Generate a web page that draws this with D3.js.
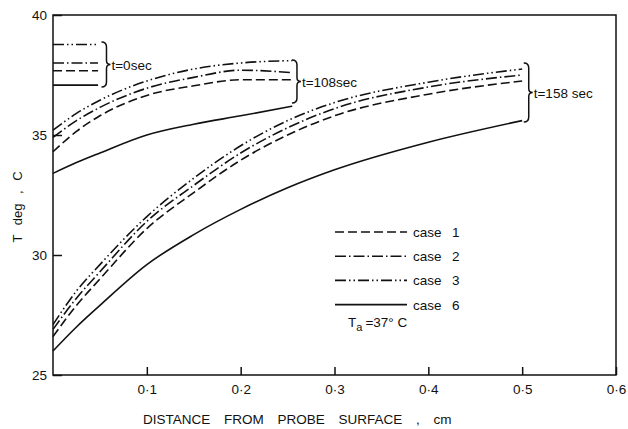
<!DOCTYPE html>
<html>
<head>
<meta charset="utf-8">
<script src="https://cdn.jsdelivr.net/npm/d3@7"></script>
<style>
  body { margin: 0; background: #fff; }
  text { font-family: "Liberation Sans", Arial, sans-serif; fill: #111; }
  .line { fill: none; stroke: #111; stroke-width: 1.6; }
</style>
</head>
<body>
<script>
// values (T in deg C against distance in cm)
var cases = ["1", "2", "3", "6"];
var xTicks = [0.1, 0.2, 0.3, 0.4, 0.5, 0.6];
var yTicks = [25, 30, 35, 40];

// t = 0 sec
var x_t0 = [0, 0.048];
var t0_case1 = [37.68, 37.68];
var t0_case2 = [38.0, 38.0];
var t0_case3 = [38.77, 38.77];
var t0_case6 = [37.08, 37.08];

// t = 108 sec
var x_t108 = [0, 0.025, 0.05, 0.1, 0.15, 0.2, 0.255];
var t108_case1 = [34.3, 35.15, 35.8, 36.65, 37.05, 37.3, 37.3];
var t108_case2 = [34.9, 35.6, 36.15, 36.95, 37.4, 37.7, 37.6];
var t108_case3 = [35.2, 35.9, 36.45, 37.25, 37.75, 38.0, 38.1];
var t108_case6 = [33.4, 33.85, 34.25, 35.0, 35.45, 35.8, 36.2];

// t = 158 sec
var x_t158 = [0, 0.025, 0.05, 0.1, 0.15, 0.2, 0.25, 0.3, 0.4, 0.5];
var t158_case1 = [26.6, 27.9, 29.0, 31.1, 32.6, 33.95, 35.0, 35.8, 36.7, 37.25];
var t158_case2 = [26.9, 28.2, 29.3, 31.4, 32.9, 34.25, 35.3, 36.1, 37.0, 37.5];
var t158_case3 = [27.1, 28.5, 29.6, 31.6, 33.2, 34.55, 35.6, 36.35, 37.2, 37.75];
var t158_case6 = [26.0, 27.0, 27.9, 29.6, 30.85, 31.9, 32.8, 33.55, 34.7, 35.6];

// brace annotations: [x, T top, T bottom, label]
var braces = [
  [0.057, 38.87, 37.0, "t=0sec"],
  [0.26, 38.12, 36.33, "t=108sec"],
  [0.507, 38.0, 35.54, "t=158 sec"]
];

var dashes = { "1": "9,4", "2": "11,3,1.5,3", "3": "11,3,1.5,3,1.5,3", "6": null };

var width = 628, height = 429;
var margin = {top: 15, right: 12, bottom: 54, left: 53};

var x = d3.scaleLinear().domain([0, 0.6]).range([margin.left, width - margin.right]);
var y = d3.scaleLinear().domain([25, 40]).range([height - margin.bottom, margin.top]);

var svg = d3.select("body").append("svg")
    .attr("width", width)
    .attr("height", height);

// frame
svg.append("rect")
    .attr("x", x(0)).attr("y", y(40))
    .attr("width", x(0.6) - x(0)).attr("height", y(25) - y(40))
    .attr("fill", "none").attr("stroke", "#111").attr("stroke-width", 1.5);

// axes
var fmt = function(d) { return d3.format(".1f")(d).replace(".", "\u00b7"); };

var gx = svg.append("g")
    .attr("transform", "translate(0," + y(25) + ")")
    .call(d3.axisBottom(x).tickValues(xTicks).tickFormat(fmt).tickSizeInner(-8).tickSizeOuter(0).tickPadding(9));
var gy = svg.append("g")
    .attr("transform", "translate(" + x(0) + ",0)")
    .call(d3.axisLeft(y).tickValues(yTicks).tickFormat(d3.format("d")).tickSizeInner(-9).tickSizeOuter(0).tickPadding(6));

[gx, gy].forEach(function(g) {
  g.select(".domain").remove();
  g.selectAll("line").attr("stroke", "#111").attr("stroke-width", 1.5);
  g.selectAll("text").attr("font-size", 13.5).attr("font-family", "Liberation Sans, Arial, sans-serif").attr("fill", "#111");
});

// axis titles
svg.append("text")
    .attr("x", 143).attr("y", 424)
    .attr("font-size", 13.5)
    .style("word-spacing", "10px")
    .text("DISTANCE FROM PROBE SURFACE , cm");

svg.append("text")
    .attr("transform", "translate(22,207) rotate(-90)")
    .attr("text-anchor", "middle")
    .attr("font-size", 13)
    .style("word-spacing", "6px")
    .text("T deg , C");

// curves
var line = d3.line()
    .x(function(d) { return x(d[0]); })
    .y(function(d) { return y(d[1]); })
    .curve(d3.curveMonotoneX);

function pairs(xs, ts) {
  return xs.map(function(v, i) { return [v, ts[i]]; });
}

var series = [
  [x_t0, t0_case1, "1"], [x_t0, t0_case2, "2"], [x_t0, t0_case3, "3"], [x_t0, t0_case6, "6"],
  [x_t108, t108_case1, "1"], [x_t108, t108_case2, "2"], [x_t108, t108_case3, "3"], [x_t108, t108_case6, "6"],
  [x_t158, t158_case1, "1"], [x_t158, t158_case2, "2"], [x_t158, t158_case3, "3"], [x_t158, t158_case6, "6"]
];

series.forEach(function(s) {
  svg.append("path")
      .data([pairs(s[0], s[1])])
      .attr("class", "line")
      .attr("stroke-dasharray", dashes[s[2]])
      .attr("d", line);
});

// braces
braces.forEach(function(b) {
  var bx = x(b[0]), y1 = y(b[1]), y2 = y(b[2]), ym = (y1 + y2) / 2;
  var p = "M" + (bx - 5) + "," + y1 +
          " Q" + bx + "," + y1 + " " + bx + "," + (y1 + 5) +
          " L" + bx + "," + (ym - 4) +
          " Q" + bx + "," + ym + " " + (bx + 4) + "," + ym +
          " Q" + bx + "," + ym + " " + bx + "," + (ym + 4) +
          " L" + bx + "," + (y2 - 5) +
          " Q" + bx + "," + y2 + " " + (bx - 5) + "," + y2;
  svg.append("path").attr("d", p)
      .attr("fill", "none").attr("stroke", "#111").attr("stroke-width", 1.5);
  svg.append("text")
      .attr("x", bx + 5).attr("y", ym + 5)
      .attr("font-size", 13.5)
      .text(b[3]);
});

// legend
var legend = svg.append("g").attr("transform", "translate(335,232)");
cases.forEach(function(c, i) {
  var row = legend.append("g").attr("transform", "translate(0," + (i * 24.2) + ")");
  row.append("line")
      .attr("x1", 0).attr("x2", 72)
      .attr("class", "line")
      .attr("stroke-dasharray", dashes[c]);
  row.append("text").attr("x", 78).attr("y", 5).attr("font-size", 13.5).text("case");
  row.append("text").attr("x", 117).attr("y", 5).attr("font-size", 13.5).text(c);
});

var ta = svg.append("text").attr("x", 348).attr("y", 327).attr("font-size", 13.5);
ta.append("tspan").text("T");
ta.append("tspan").attr("dy", 4).attr("font-size", 11).text("a");
ta.append("tspan").attr("dy", -4).attr("dx", 3).text("=37\u00b0 C");
</script>
</body>
</html>
